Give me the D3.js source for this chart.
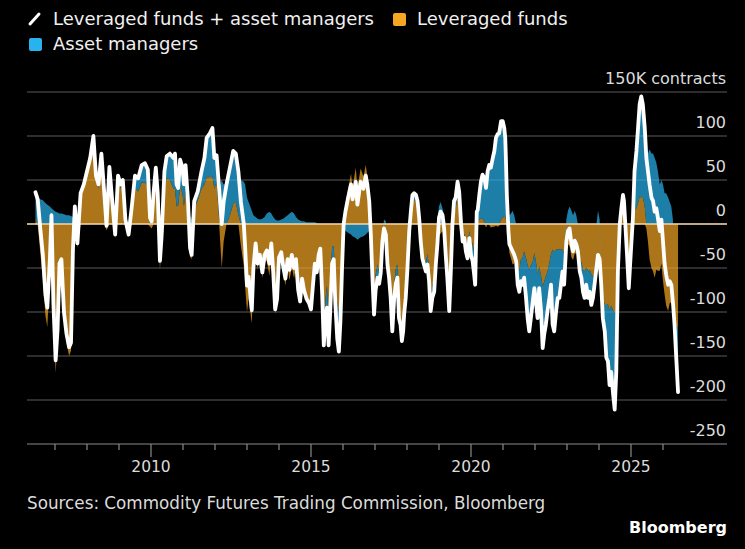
<!DOCTYPE html>
<html>
<head>
<meta charset="utf-8">
<script src="https://cdn.jsdelivr.net/npm/d3@7"></script>
<style>
body { margin: 0; background: #000; }
svg text { font-family: "DejaVu Sans", Verdana, sans-serif; }
</style>
</head>
<body>
<script>
// positions in thousands of contracts (decimal years)
var years = [2006.39,2006.46,2006.54,2006.62,2006.70,2006.76,2006.84,2006.89,2006.95,2007.02,2007.08,2007.14,2007.20,2007.28,2007.36,2007.44,2007.50,2007.56,2007.62,2007.70,2007.80,2007.90,2008.00,2008.10,2008.20,2008.28,2008.36,2008.45,2008.55,2008.61,2008.70,2008.78,2008.88,2008.97,2009.05,2009.12,2009.20,2009.30,2009.40,2009.50,2009.60,2009.71,2009.81,2009.90,2009.97,2010.02,2010.08,2010.15,2010.21,2010.28,2010.33,2010.42,2010.49,2010.59,2010.70,2010.75,2010.80,2010.85,2010.91,2010.98,2011.03,2011.08,2011.15,2011.22,2011.27,2011.35,2011.46,2011.58,2011.67,2011.74,2011.84,2011.92,2011.98,2012.05,2012.13,2012.21,2012.27,2012.36,2012.47,2012.57,2012.65,2012.73,2012.81,2012.90,2012.94,2013.00,2013.05,2013.15,2013.20,2013.27,2013.33,2013.40,2013.48,2013.55,2013.62,2013.70,2013.76,2013.82,2013.88,2013.94,2014.00,2014.07,2014.13,2014.20,2014.27,2014.33,2014.40,2014.47,2014.53,2014.60,2014.66,2014.72,2014.78,2014.86,2014.94,2015.00,2015.06,2015.12,2015.18,2015.24,2015.29,2015.35,2015.40,2015.45,2015.50,2015.55,2015.60,2015.66,2015.71,2015.76,2015.82,2015.87,2015.92,2015.97,2016.02,2016.08,2016.16,2016.25,2016.30,2016.40,2016.45,2016.55,2016.64,2016.71,2016.76,2016.82,2016.87,2016.92,2016.97,2017.02,2017.08,2017.13,2017.18,2017.23,2017.28,2017.34,2017.39,2017.44,2017.49,2017.54,2017.60,2017.65,2017.70,2017.75,2017.80,2017.84,2017.88,2017.91,2017.96,2018.01,2018.07,2018.12,2018.17,2018.22,2018.28,2018.33,2018.38,2018.43,2018.48,2018.53,2018.59,2018.64,2018.69,2018.74,2018.79,2018.85,2018.90,2018.95,2019.00,2019.05,2019.11,2019.16,2019.21,2019.26,2019.32,2019.37,2019.42,2019.47,2019.52,2019.58,2019.63,2019.69,2019.74,2019.79,2019.84,2019.89,2019.95,2020.00,2020.05,2020.10,2020.13,2020.18,2020.21,2020.26,2020.31,2020.36,2020.42,2020.47,2020.52,2020.57,2020.62,2020.68,2020.73,2020.78,2020.83,2020.88,2020.94,2020.99,2021.04,2021.07,2021.09,2021.12,2021.17,2021.20,2021.25,2021.30,2021.35,2021.41,2021.46,2021.51,2021.56,2021.61,2021.66,2021.72,2021.77,2021.82,2021.87,2021.93,2021.98,2022.03,2022.08,2022.13,2022.19,2022.24,2022.29,2022.34,2022.39,2022.45,2022.50,2022.55,2022.60,2022.66,2022.71,2022.76,2022.81,2022.86,2022.91,2022.98,2023.03,2023.08,2023.14,2023.19,2023.24,2023.29,2023.34,2023.40,2023.45,2023.50,2023.55,2023.60,2023.66,2023.71,2023.76,2023.81,2023.86,2023.92,2023.97,2024.02,2024.07,2024.12,2024.18,2024.23,2024.28,2024.33,2024.38,2024.44,2024.49,2024.54,2024.59,2024.65,2024.70,2024.75,2024.78,2024.83,2024.88,2024.93,2024.96,2025.01,2025.06,2025.11,2025.17,2025.22,2025.27,2025.32,2025.37,2025.43,2025.48,2025.53,2025.58,2025.64,2025.69,2025.74,2025.79,2025.84,2025.90,2025.95,2026.00,2026.05,2026.10,2026.16,2026.21,2026.26,2026.31,2026.36,2026.42,2026.47];

var leveragedFunds = [6,-1,-33,-62,-104,-117,-60,-8,-106,-169,-133,-57,-52,-111,-135,-150,-144,-38,14,-27,31,42,56,70,92,49,40,70,20,-7,57,27,0,52,40,45,3,-12,17,40,37,47,47,44,-3,-5,23,44,20,-52,-25,40,52,50,40,40,20,21,43,35,20,37,10,-37,-40,16,27,40,45,53,53,54,40,48,5,-50,-20,0,10,23,25,10,-25,-48,-70,-100,-85,-113,-60,-30,-51,-40,-61,-43,-42,-59,-34,-63,-102,-89,-42,-37,-54,-70,-50,-64,-49,-62,-48,-80,-92,-65,-78,-87,-92,-99,-72,-47,-56,-35,-26,-72,-123,-85,-70,-108,-70,-25,-25,-65,-90,-100,-80,-35,5,23,40,57,42,64,40,63,54,67,55,34,-2,-46,-83,-57,-46,-56,-47,-17,-10,-15,-44,-56,-76,-110,-69,-50,-46,-92,-103,-123,-114,-97,-80,-53,-13,6,23,27,27,22,5,-18,-34,-38,-44,-34,-50,-81,-69,-67,-41,-28,-13,-11,-8,-15,-35,-56,-91,-49,-5,16,18,30,19,-8,-15,-11,-21,-24,-8,-20,-22,-33,-39,4,4,5,6,6,2,-4,0,-1,-4,-3,-3,-2,-3,-2,5,7,9,8,5,-2,-18,-33,-39,-46,-45,-42,-54,-52,-40,-39,-31,-39,-47,-52,-47,-43,-33,-43,-57,-48,-59,-71,-65,-59,-54,-44,-34,-29,-32,-29,-29,-29,-29,-29,-34,-25,-23,-25,-38,-41,-34,-33,-31,-42,-43,-52,-54,-49,-54,-52,-57,-59,-59,-50,-50,-45,-59,-82,-92,-92,-91,-98,-93,-98,-101,-98,-34,0,10,18,14,-5,-28,-53,-39,-18,2,15,18,24,31,30,31,19,-5,-20,-40,-50,-54,-61,-52,-53,-53,-45,-65,-80,-93,-99,-90,-89,-94,-109,-116,-119];

var assetManagers = [30,29,28,27,24,22,20,18,16,14,13,12,12,11,10,10,9,8,6,5,4,3,4,5,8,6,5,10,10,5,8,3,-12,3,5,5,2,0,3,15,15,20,22,18,10,8,12,20,15,10,10,20,25,30,35,40,25,20,30,30,25,30,20,10,5,10,10,20,30,45,50,55,35,30,35,50,45,45,55,60,55,50,50,48,45,30,25,15,10,8,6,5,6,8,12,14,12,8,5,4,4,5,6,8,10,12,14,12,8,5,4,3,3,2,2,2,2,2,1,0,-2,-8,-15,-20,-25,-30,-30,-20,-15,-25,-40,-45,-30,-15,-5,-8,-10,-12,-14,-16,-18,-15,-14,-12,-10,-8,-10,-15,-20,-18,-15,-12,-8,-3,5,3,-2,-5,-8,-12,-15,-18,-15,-15,-12,-10,-8,-6,-4,0,5,8,10,8,6,4,2,-2,-5,-8,-10,-12,-15,-18,-15,-10,-5,5,20,25,18,10,0,-5,-8,-4,5,10,12,18,18,8,-5,-5,-10,-15,-8,-15,-20,-25,-30,10,12,28,42,50,50,45,60,68,68,78,86,100,105,105,112,110,100,90,70,35,10,10,12,15,10,0,-15,-25,-25,-30,-30,-45,-60,-70,-60,-45,-40,-45,-50,-25,-40,-70,-60,-55,-45,-40,-35,-85,-90,-70,-55,-55,-40,-25,-35,5,15,20,15,10,15,10,0,-12,-18,-25,-30,-20,-30,-25,-35,-25,-10,0,15,5,-10,-25,-30,-60,-65,-85,-75,-95,-110,-70,-20,0,8,15,12,0,-10,-20,-15,-5,5,45,65,85,105,115,105,90,80,80,85,80,80,75,70,60,45,50,45,35,35,30,25,20,5,-5,-40,-72];

var yTicks = [-250, -200, -150, -100, -50, 0, 50, 100, 150];
var yearTicks = d3.range(2007, 2027);
var seriesNames = ["Leveraged funds + asset managers", "Leveraged funds", "Asset managers"];
var seriesColors = ["#ffffff", "#f5a623", "#29b3ee"];

///////////////////////////
// plot parameter
var svg = d3.select("body")
	.append("svg")
	.attr("width", 745)
	.attr("height", 549)
	.style("background", "#000");

var x = d3.scaleLinear().domain([2006.125, 2028]).range([27, 727]);
var y = d3.scaleLinear().domain([-250, 150]).range([444, 92]);

var rows = years.map(function(t, i) {
	return {year: t, lev: leveragedFunds[i], am: assetManagers[i]};
});

// grid lines
svg.append("g")
	.selectAll("line")
	.data(yTicks)
	.enter()
	.append("line")
	.attr("x1", 27)
	.attr("x2", 727)
	.attr("y1", function(d) { return y(d); })
	.attr("y2", function(d) { return y(d); })
	.attr("stroke", function(d) { return d == -250 ? "#8a8a8a" : "#5a5a5a"; })
	.attr("stroke-width", 1.2);

// stacked areas, negatives stacked below zero
var stack = d3.stack()
	.keys(["lev", "am"])
	.offset(d3.stackOffsetDiverging);
var layers = stack(rows);

var area = d3.area()
	.x(function(d) { return x(d.data.year); })
	.y0(function(d) { return y(d[0]); })
	.y1(function(d) { return y(d[1]); });

svg.append("g")
	.selectAll("path")
	.data(layers)
	.enter()
	.append("path")
	.attr("d", area)
	.attr("fill", function(d, i) { return seriesColors[i + 1]; })
	.attr("fill-opacity", 0.7);

// zero line
svg.append("line")
	.attr("x1", 27)
	.attr("x2", 727)
	.attr("y1", y(0))
	.attr("y2", y(0))
	.attr("stroke", "#f1d2a6")
	.attr("stroke-width", 1.5);

// total line
var line = d3.line()
	.x(function(d) { return x(d.year); })
	.y(function(d) { return y(d.lev + d.am); });

svg.append("path")
	.datum(rows)
	.attr("d", line)
	.attr("fill", "none")
	.attr("stroke", "#fff")
	.attr("stroke-width", 3.8)
	.attr("stroke-linejoin", "round")
	.attr("stroke-linecap", "round");

// y labels
svg.append("g")
	.selectAll("text")
	.data(yTicks)
	.enter()
	.append("text")
	.attr("x", 726)
	.attr("y", function(d) { return y(d) - 8; })
	.attr("text-anchor", "end")
	.attr("fill", "#dcdcdc")
	.attr("font-size", 16)
	.text(function(d) { return d == 150 ? "150K contracts" : d; });

// x ticks
svg.append("g")
	.selectAll("line")
	.data(yearTicks)
	.enter()
	.append("line")
	.attr("x1", function(d) { return x(d); })
	.attr("x2", function(d) { return x(d); })
	.attr("y1", 444)
	.attr("y2", function(d) { return d % 5 == 0 ? 457 : 450; })
	.attr("stroke", "#8a8a8a")
	.attr("stroke-width", 1.2);

svg.append("g")
	.selectAll("text")
	.data(yearTicks.filter(function(d) { return d % 5 == 0; }))
	.enter()
	.append("text")
	.attr("x", function(d) { return x(d); })
	.attr("y", 472)
	.attr("text-anchor", "middle")
	.attr("fill", "#dcdcdc")
	.attr("font-size", 15.5)
	.text(function(d) { return d; });

// legend
var legend = [
	{name: seriesNames[0], x: 29, y: 25},
	{name: seriesNames[1], x: 393, y: 25},
	{name: seriesNames[2], x: 29, y: 50}
];
legend.forEach(function(d, i) {
	if (i == 0) {
		svg.append("line")
			.attr("x1", d.x + 1).attr("y1", d.y - 1)
			.attr("x2", d.x + 10).attr("y2", d.y - 11)
			.attr("stroke", seriesColors[0])
			.attr("stroke-width", 3)
			.attr("stroke-linecap", "round");
	} else {
		svg.append("rect")
			.attr("x", d.x)
			.attr("y", d.y - 12)
			.attr("width", 13)
			.attr("height", 13)
			.attr("rx", 2)
			.attr("fill", seriesColors[i]);
	}
	svg.append("text")
		.attr("x", d.x + 24)
		.attr("y", d.y)
		.attr("fill", "#f0f0f0")
		.attr("font-size", 18)
		.text(d.name);
});

// footer
svg.append("text")
	.attr("x", 27)
	.attr("y", 509)
	.attr("fill", "#dcdcdc")
	.attr("font-size", 16.8)
	.text("Sources: Commodity Futures Trading Commission, Bloomberg");

svg.append("text")
	.attr("x", 727)
	.attr("y", 533)
	.attr("text-anchor", "end")
	.attr("fill", "#fff")
	.attr("font-size", 16)
	.attr("font-weight", "bold")
	.text("Bloomberg");
</script>
</body>
</html>
